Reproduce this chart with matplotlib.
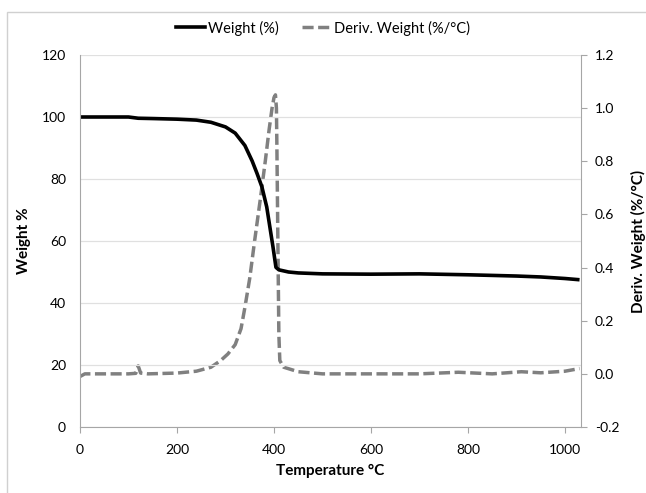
import matplotlib
matplotlib.use("Agg")
import matplotlib.pyplot as plt
from matplotlib.lines import Line2D

# TGA data
temp_w = [0, 50, 100, 120, 150, 200, 240, 270, 300, 320, 340, 355, 365, 375, 385,
          392, 398, 404, 410, 430, 450, 500, 600, 700, 800, 900, 950, 1000, 1030]
weight = [100, 100, 100, 99.6, 99.5, 99.3, 99.0, 98.3, 96.8, 94.8, 90.8, 85.8, 81.8,
          77.5, 71.0, 64.0, 58.0, 51.5, 50.7, 50.0, 49.7, 49.4, 49.3, 49.4,
          49.1, 48.7, 48.4, 47.9, 47.5]

temp_d = [0, 10, 50, 100, 115, 120, 125, 140, 200, 240, 270, 290, 305, 320, 332,
          340, 350, 360, 372, 382, 390, 396, 400, 403, 405, 406, 408, 410, 412, 420, 450,
          500, 600, 700, 780, 850, 910, 950, 1000, 1030]
deriv = [-0.01, 0.0, 0.0, 0.0, 0.002, 0.03, 0.003, 0.0, 0.003, 0.01, 0.025, 0.05,
         0.075, 0.11, 0.17, 0.25, 0.36, 0.50, 0.66, 0.80, 0.92, 1.0, 1.04, 1.05, 1.0,
         0.85, 0.5, 0.15, 0.05, 0.025, 0.008, 0.0, 0.0, 0.0, 0.006, 0.0, 0.008,
         0.004, 0.01, 0.02]

xticks = [0, 200, 400, 600, 800, 1000]
yticks_left = [0, 20, 40, 60, 80, 100, 120]
yticks_right = [-0.2, 0.0, 0.2, 0.4, 0.6, 0.8, 1.0, 1.2]

plt.rcParams['font.family'] = ['Lato', 'DejaVu Sans']

fig = plt.figure(figsize=(6.46, 4.93), dpi=100, facecolor='white')
ax = fig.add_axes([80 / 646, 1 - 427 / 493, (581 - 80) / 646, (427 - 55) / 493])
ax2 = ax.twinx()

ax.set_zorder(ax2.get_zorder() + 1)
ax.patch.set_visible(False)

gray = '#a6a6a6'
dash = (0, (3.2, 1.3))
ax.plot(temp_w, weight, color='black', lw=2.6, solid_capstyle='butt')
ax2.plot(temp_d, deriv, color='#808080', lw=2.5, ls=dash)

ax.set_xlim(0, 1033)
ax.set_ylim(0, 120)
ax2.set_ylim(-0.2, 1.2)
ax.set_xticks(xticks)
ax.set_yticks(yticks_left)
ax2.set_yticks(yticks_right)
ax2.set_yticklabels([f'{v:.1f}' for v in yticks_right])

ax.grid(axis='y', color='#e0e0e0', lw=0.9)
ax.set_axisbelow(True)

for a in (ax, ax2):
    for s in a.spines.values():
        s.set_visible(False)
    a.tick_params(labelsize=10, colors='#404040')
ax.spines['left'].set_visible(True)
ax.spines['left'].set_color(gray)
ax.spines['bottom'].set_visible(True)
ax.spines['bottom'].set_color(gray)
ax2.spines['right'].set_visible(True)
ax2.spines['right'].set_color(gray)

ax.tick_params(axis='y', length=0, pad=10, labelcolor='black')
ax.tick_params(axis='x', length=4, color=gray, pad=8, labelcolor='black')
ax2.tick_params(axis='y', length=4, color=gray, pad=6, labelcolor='black')

ax.set_xlabel('Temperature °C', fontsize=11, fontweight='bold', labelpad=6)
ax.set_ylabel('Weight %', fontsize=11, fontweight='bold', labelpad=8)
ax2.set_ylabel('Deriv. Weight (%/°C)', fontsize=11, fontweight='bold', labelpad=8)

handles = [Line2D([], [], color='black', lw=2.6),
           Line2D([], [], color='#808080', lw=2.5, ls=dash)]
fig.legend(handles, ['Weight (%)', 'Deriv. Weight (%/°C)'], loc='center',
           bbox_to_anchor=(0.5, 1 - 28 / 493), ncol=2, frameon=False,
           fontsize=10.5, handlelength=2.0, handletextpad=0.2, columnspacing=1.6)

# chart border
border = plt.Rectangle((7 / 646, -0.01), 1.0, 1 - 12 / 493 + 0.01,
                       transform=fig.transFigure, fill=False,
                       edgecolor='#d0d0d0', lw=1.0)
fig.patches.append(border)

fig.savefig('out.png', dpi=100)
